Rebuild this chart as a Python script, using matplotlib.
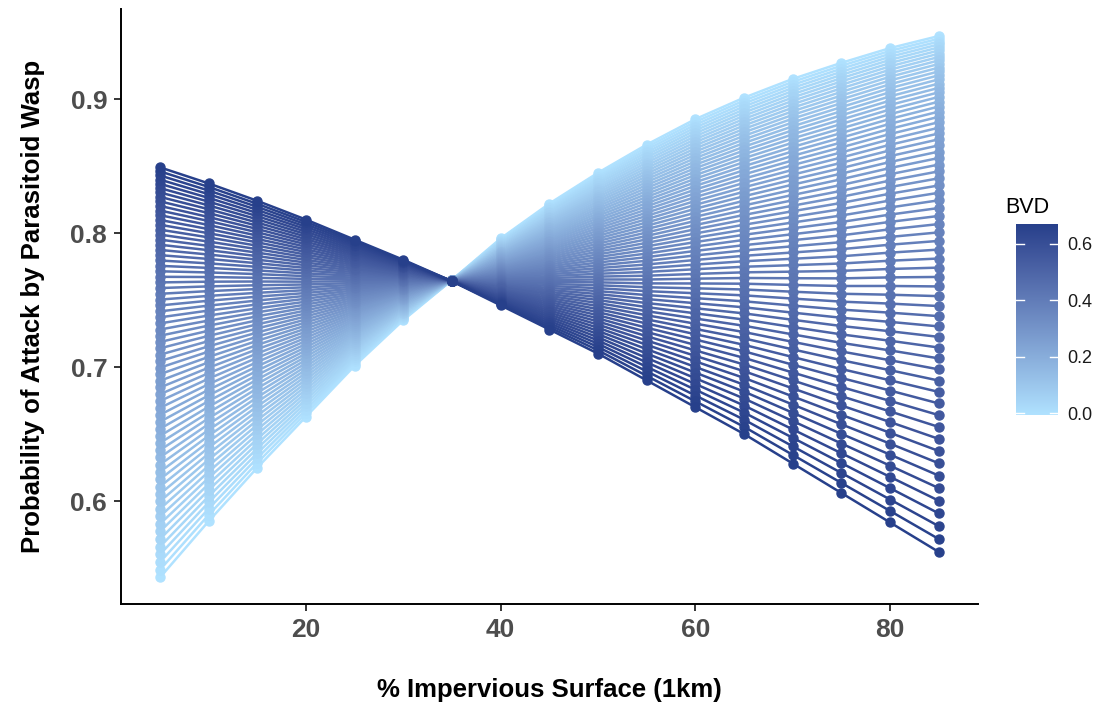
import numpy as np
import matplotlib
matplotlib.use("Agg")
import matplotlib.pyplot as plt
from matplotlib.colors import ListedColormap, Normalize

# % impervious surface values where predictions were plotted
impervious = [5, 10, 15, 20, 25, 30, 35, 40, 45, 50, 55, 60, 65, 70, 75, 80, 85]
# predicted probability for the lowest BVD line (BVD = 0)
prob_bvd_low = [0.543, 0.585, 0.625, 0.663, 0.701, 0.735, 0.765, 0.796, 0.822,
                0.845, 0.866, 0.885, 0.901, 0.915, 0.927, 0.938, 0.947]
# predicted probability for the highest BVD line (BVD = 0.67)
prob_bvd_high = [0.849, 0.837, 0.824, 0.810, 0.795, 0.780, 0.764, 0.746, 0.728,
                 0.710, 0.690, 0.670, 0.650, 0.628, 0.606, 0.584, 0.562]
# BVD levels, one line each
bvd_levels = [round(0.01 * i, 2) for i in range(68)]
cbar_ticks = [0.0, 0.2, 0.4, 0.6]
cbar_labels = ["0.0", "0.2", "0.4", "0.6"]

low_col = "#B0E2FF"
high_col = "#27408B"

plt.rcParams['font.family'] = ['Liberation Sans', 'DejaVu Sans']


# ggplot blends gradient colours in Lab space, so do the same here
def hex_to_lab(h):
    rgb = np.array([int(h[i:i + 2], 16) for i in (1, 3, 5)]) / 255.0
    lin = np.where(rgb <= 0.04045, rgb / 12.92, ((rgb + 0.055) / 1.055) ** 2.4)
    m = np.array([[0.4124, 0.3576, 0.1805],
                  [0.2126, 0.7152, 0.0722],
                  [0.0193, 0.1192, 0.9505]])
    xyz = m @ lin / np.array([0.95047, 1.0, 1.08883])
    f = np.where(xyz > 0.008856, np.cbrt(xyz), 7.787 * xyz + 16 / 116)
    return np.array([116 * f[1] - 16, 500 * (f[0] - f[1]), 200 * (f[1] - f[2])])


def lab_to_rgb(lab):
    fy = (lab[0] + 16) / 116
    fx = fy + lab[1] / 500
    fz = fy - lab[2] / 200
    f = np.array([fx, fy, fz])
    xyz = np.where(f ** 3 > 0.008856, f ** 3, (f - 16 / 116) / 7.787)
    xyz = xyz * np.array([0.95047, 1.0, 1.08883])
    m = np.array([[3.2406, -1.5372, -0.4986],
                  [-0.9689, 1.8758, 0.0415],
                  [0.0557, -0.2040, 1.0570]])
    lin = m @ xyz
    rgb = np.where(lin <= 0.0031308, 12.92 * lin, 1.055 * np.clip(lin, 0, None) ** (1 / 2.4) - 0.055)
    return np.clip(rgb, 0, 1)


lab_lo, lab_hi = hex_to_lab(low_col), hex_to_lab(high_col)
cmap = ListedColormap([lab_to_rgb(lab_lo + t * (lab_hi - lab_lo))
                       for t in np.linspace(0, 1, 256)])
norm = Normalize(vmin=min(bvd_levels), vmax=max(bvd_levels))


def logit(p):
    p = np.asarray(p)
    return np.log(p / (1 - p))


# lines are straight in logit space, evenly spread by BVD
lo = logit(prob_bvd_low)
hi = logit(prob_bvd_high)

fig = plt.figure(figsize=(11.01, 7.10), dpi=100)
ax = fig.add_axes([0.110, 0.149, 0.778, 0.838])

for bvd in bvd_levels:
    frac = (bvd - min(bvd_levels)) / (max(bvd_levels) - min(bvd_levels))
    yy = 1 / (1 + np.exp(-(lo + frac * (hi - lo))))
    col = cmap(norm(bvd))
    ax.plot(impervious, yy, color=col, lw=1.8, marker="o", ms=6.5,
            mec=col, mfc=col, solid_capstyle="round")

ax.set_xlim(1, 89)
ax.set_ylim(0.523, 0.967)
ax.set_xticks([20, 40, 60, 80])
ax.set_yticks([0.6, 0.7, 0.8, 0.9])
ax.set_yticklabels(["0.6", "0.7", "0.8", "0.9"])
for side in ["top", "right"]:
    ax.spines[side].set_visible(False)
for side in ["left", "bottom"]:
    ax.spines[side].set_linewidth(1.4)
ax.tick_params(length=5, width=1.1, colors="black", labelcolor="#4d4d4d",
               labelsize=19, pad=5)
for lab in ax.get_xticklabels() + ax.get_yticklabels():
    lab.set_fontweight("bold")

ax.set_xlabel("% Impervious Surface (1km)", fontsize=18.5, fontweight="bold",
              labelpad=26)
ax.set_ylabel("Probability of Attack by Parasitoid Wasp", fontsize=18.5,
              fontweight="bold", labelpad=18)

# colour bar legend
cax = fig.add_axes([1016 / 1101, 1 - 415 / 710, 42 / 1101, 191 / 710])
grad = np.linspace(0, 1, 256).reshape(-1, 1)
cax.imshow(grad, aspect="auto", cmap=cmap, origin="lower",
           extent=[0, 1, -0.006, max(bvd_levels)])
cax.set_xlim(0, 1)
cax.set_ylim(-0.006, max(bvd_levels))
for t in cbar_ticks:
    cax.plot([0, 0.2], [t, t], color="white", lw=1)
    cax.plot([0.8, 1], [t, t], color="white", lw=1)
cax.set_xticks([])
cax.yaxis.tick_right()
cax.set_yticks(cbar_ticks)
cax.set_yticklabels(cbar_labels)
cax.tick_params(axis="y", length=0, labelsize=13, pad=7, labelcolor="#1a1a1a")
for s in cax.spines.values():
    s.set_visible(False)
cax.set_title("BVD", fontsize=15.5, loc="left", pad=8, x=-0.25)

fig.savefig("out.png", dpi=100)
